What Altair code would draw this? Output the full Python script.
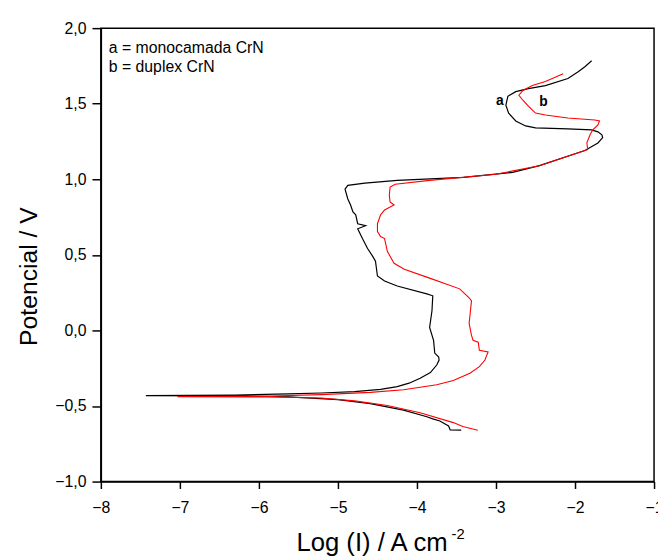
import altair as alt
import pandas as pd

# Curve a (monocamada CrN) - black
a_x = [-3.44, -3.58, -3.60, -3.71, -3.80, -3.875, -4.17, -4.59, -5.0, -5.625, -6.3, -7.43,
       -6.3, -5.625, -5.21, -4.79, -4.46, -4.25, -4.10, -3.96, -3.83, -3.75, -3.72,
       -3.725, -3.775, -3.79, -3.84, -3.81, -3.80, -3.875, -4.25, -4.41, -4.5, -4.525,
       -4.56, -4.625, -4.69, -4.75, -4.65, -4.75, -4.775, -4.81, -4.84, -4.875, -4.91,
       -4.875, -4.66, -4.25, -3.41, -2.79, -2.45, -1.875, -1.71, -1.65, -1.66, -1.71,
       -1.79, -2.09, -2.5, -2.625, -2.75, -2.84, -2.875, -2.85, -2.75, -2.59, -2.375,
       -2.09, -1.96, -1.875, -1.79]
a_y = [-0.66, -0.658, -0.632, -0.599, -0.585, -0.571, -0.527, -0.484, -0.458, -0.44, -0.433, -0.431,
       -0.428, -0.420, -0.414, -0.405, -0.390, -0.372, -0.349, -0.316, -0.279, -0.229, -0.196,
       -0.176, -0.150, -0.065, 0.02, 0.13, 0.229, 0.242, 0.294, 0.327, 0.36, 0.458,
       0.49, 0.542, 0.608, 0.673, 0.693, 0.706, 0.765, 0.784, 0.83, 0.87, 0.935,
       0.96, 0.974, 0.993, 1.013, 1.046, 1.09, 1.19, 1.24, 1.275, 1.294, 1.314,
       1.327, 1.333, 1.34, 1.353, 1.386, 1.438, 1.49, 1.549, 1.58, 1.60, 1.62,
       1.667, 1.712, 1.745, 1.784]

# Curve b (duplex CrN) - red
b_x = [-3.23, -3.42, -3.54, -3.96, -4.375, -4.79, -5.21, -5.84, -7.03,
       -5.84, -5.21, -4.59, -4.17, -3.75, -3.54, -3.33, -3.21, -3.14, -3.10, -3.21,
       -3.225, -3.29, -3.31, -3.34, -3.31, -3.34, -3.46, -3.84, -4.16, -4.29, -4.375,
       -4.41, -4.46, -4.5, -4.5, -4.46, -4.41, -4.29, -4.34, -4.35, -4.34, -4.275,
       -3.84, -3.0, -2.45, -1.875, -1.84, -1.85, -1.81, -1.775, -1.71, -1.69, -1.75,
       -2.09, -2.375, -2.5, -2.59, -2.66, -2.71, -2.66, -2.54, -2.375, -2.15]
b_y = [-0.66, -0.636, -0.61, -0.545, -0.497, -0.466, -0.447, -0.44, -0.438,
       -0.434, -0.425, -0.41, -0.392, -0.359, -0.331, -0.283, -0.24, -0.196, -0.142, -0.131,
       -0.078, -0.065, -0.033, 0.046, 0.196, 0.216, 0.275, 0.346, 0.405, 0.444, 0.523,
       0.608, 0.621, 0.654, 0.706, 0.765, 0.797, 0.83, 0.85, 0.895, 0.948, 0.967,
       0.993, 1.033, 1.09, 1.19, 1.196, 1.242, 1.294, 1.327, 1.36, 1.386, 1.392,
       1.405, 1.425, 1.438, 1.484, 1.523, 1.556, 1.588, 1.62, 1.647, 1.699]

curve_labels = ["a", "b"]
curve_label_x = [-2.95, -2.40]
curve_label_y = [1.516, 1.51]

legend_lines = ["a = monocamada CrN", "b = duplex CrN"]
legend_x = [-7.9, -7.9]
legend_y = [1.869, 1.745]

x_ticks = [-8 + 0.5 * i for i in range(15)]
y_ticks = [-1 + 0.25 * i for i in range(13)]

df_a = pd.DataFrame({"x": a_x, "y": a_y, "i": range(len(a_x))})
df_b = pd.DataFrame({"x": b_x, "y": b_y, "i": range(len(b_x))})
df_lab = pd.DataFrame({"t": curve_labels, "x": curve_label_x, "y": curve_label_y})
df_leg = pd.DataFrame({"t": legend_lines, "x": legend_x, "y": legend_y})
df_sup = pd.DataFrame({"t": ["-2"]})

FONT = "Liberation Sans"

xscale = alt.Scale(domain=[-8, -1], nice=False, zero=False)
yscale = alt.Scale(domain=[-1, 2], nice=False, zero=False)

xaxis = alt.Axis(
    values=x_ticks,
    labelExpr="datum.value % 1 == 0 ? format(datum.value, 'd') : ''",
    title="Log (I) / A cm",
    titleFont=FONT, titleFontSize=26, titleFontWeight="normal", titleColor="black",
    titleX=274, titleY=70, titleAlign="center", titleBaseline="alphabetic",
    labelFont=FONT, labelFontSize=16, labelColor="black", labelPadding=11,
    tickSize={"condition": {"test": "datum.value % 1 == 0", "value": 7}, "value": 4},
    tickColor="black", tickWidth=1.5, domainColor="black", domainWidth=1.5,
    grid=False, labelFlush=False, labelOverlap=False,
)
yaxis = alt.Axis(
    values=y_ticks,
    labelExpr="datum.value % 0.5 == 0 ? replace(format(datum.value, '.1f'), '.', ',') : ''",
    title="Potencial / V",
    titleFont=FONT, titleFontSize=25, titleFontWeight="normal", titleColor="black",
    titleX=-73, titleY=251, titleAngle=-90, titleAlign="center", titleBaseline="middle",
    labelFont=FONT, labelFontSize=16, labelColor="black", labelPadding=6,
    tickSize={"condition": {"test": "datum.value % 0.5 == 0", "value": 9}, "value": 5},
    tickColor="black", tickWidth=1.5, domainColor="black", domainWidth=1.5,
    grid=False, labelFlush=False, labelOverlap=False,
)

line_a = alt.Chart(df_a).mark_line(color="black", strokeWidth=1.2).encode(
    x=alt.X("x:Q", scale=xscale, axis=xaxis),
    y=alt.Y("y:Q", scale=yscale, axis=yaxis),
    order="i:Q",
)
line_b = alt.Chart(df_b).mark_line(color="red", strokeWidth=1.1).encode(
    x=alt.X("x:Q", scale=xscale),
    y=alt.Y("y:Q", scale=yscale),
    order="i:Q",
)
labels = alt.Chart(df_lab).mark_text(font=FONT, fontSize=14, fontWeight="bold", color="black").encode(
    x="x:Q", y="y:Q", text="t:N"
)
legend = alt.Chart(df_leg).mark_text(font=FONT, fontSize=16, color="black", align="left", baseline="middle").encode(
    x="x:Q", y="y:Q", text="t:N"
)
sup = alt.Chart(df_sup).mark_text(font=FONT, fontSize=15, color="black", align="left", baseline="alphabetic").encode(
    x=alt.value(355), y=alt.value(517), text="t:N"
)

chart = alt.layer(line_a, line_b, labels, legend, sup).properties(
    width=560, height=459,
    autosize=alt.AutoSizeParams(type="none"),
    padding={"left": 94, "top": 17, "right": 4, "bottom": 75},
).configure_view(stroke="black", strokeWidth=1.5)

chart.save("out.html", embed_options={"renderer": "svg", "actions": False})
